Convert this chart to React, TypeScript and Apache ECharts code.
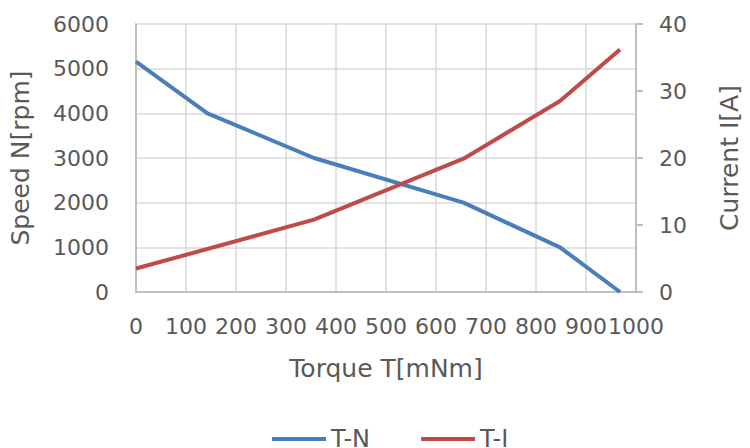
import React, { useEffect, useRef } from "react";
import * as echarts from "echarts";

const speedTorque: number[] = [0, 143, 356, 655, 848, 968];
const speedValues: number[] = [5160, 4000, 3000, 2000, 1000, 0];
const currentTorque: number[] = [0, 356, 655, 848, 968];
const currentValues: number[] = [3.5, 10.8, 19.9, 28.5, 36.2];
const seriesNames: string[] = ["T-N", "T-I"];
const xTitle = "Torque T[mNm]";
const yLeftTitle = "Speed N[rpm]";
const yRightTitle = "Current I[A]";

const FONT = "DejaVu Sans";
const TXT = "#595959";

export default function App() {
  const ref = useRef<HTMLDivElement>(null);
  useEffect(() => {
    if (!ref.current) return;
    const chart = echarts.init(ref.current, undefined, { renderer: "svg" });
    const tick = { color: TXT, fontSize: 22, fontFamily: FONT, formatter: (v: number) => String(v) };
    const nameStyle = { color: TXT, fontSize: 25, fontFamily: FONT };
    chart.setOption({
      animation: false,
      backgroundColor: "#ffffff",
      grid: { left: 135, right: 109, top: 24, bottom: 156, containLabel: false },
      legend: {
        data: seriesNames,
        left: 267,
        top: 422,
        icon: "rect",
        itemWidth: 54,
        itemHeight: 4,
        itemGap: 51,
        textStyle: { color: TXT, fontSize: 24, fontFamily: FONT },
      },
      xAxis: {
        type: "value",
        min: 0,
        max: 1000,
        interval: 100,
        name: xTitle,
        nameLocation: "middle",
        nameGap: 64,
        nameTextStyle: nameStyle,
        axisLine: { show: true, lineStyle: { color: "#bfbfbf", width: 2 } },
        axisTick: { show: false },
        axisLabel: { ...tick, margin: 23, hideOverlap: false },
        splitLine: { show: true, lineStyle: { color: "#d9d9d9", width: 1.5 } },
      },
      yAxis: [
        {
          type: "value",
          min: 0,
          max: 6000,
          interval: 1000,
          position: "left",
          name: yLeftTitle,
          nameLocation: "middle",
          nameGap: 103,
          nameTextStyle: nameStyle,
          axisLine: { show: true, lineStyle: { color: "#bfbfbf", width: 2 } },
          axisTick: { show: false },
          axisLabel: { ...tick, margin: 27 },
          splitLine: { show: true, lineStyle: { color: "#d9d9d9", width: 1.5 } },
        },
        {
          type: "value",
          min: 0,
          max: 40,
          interval: 10,
          position: "right",
          name: yRightTitle,
          nameLocation: "middle",
          nameGap: 81,
          nameTextStyle: nameStyle,
          axisLine: { show: true, lineStyle: { color: "#bfbfbf", width: 2 } },
          axisTick: { show: true, inside: false, length: 7, lineStyle: { color: "#bfbfbf", width: 2 } },
          axisLabel: { ...tick, margin: 23 },
          splitLine: { show: false },
        },
      ],
      series: [
        {
          name: seriesNames[0],
          type: "line",
          yAxisIndex: 0,
          symbol: "none",
          data: speedTorque.map((t, i) => [t, speedValues[i]]),
          lineStyle: { color: "#4a7ebb", width: 4 },
          itemStyle: { color: "#4a7ebb" },
        },
        {
          name: seriesNames[1],
          type: "line",
          yAxisIndex: 1,
          symbol: "none",
          data: currentTorque.map((t, i) => [t, currentValues[i]]),
          lineStyle: { color: "#be4b48", width: 4 },
          itemStyle: { color: "#be4b48" },
        },
      ],
    });
    return () => chart.dispose();
  }, []);
  return (
    <div
      ref={ref}
      style={{ position: "fixed", left: 0, top: 0, width: 750, height: 448 }}
    />
  );
}
